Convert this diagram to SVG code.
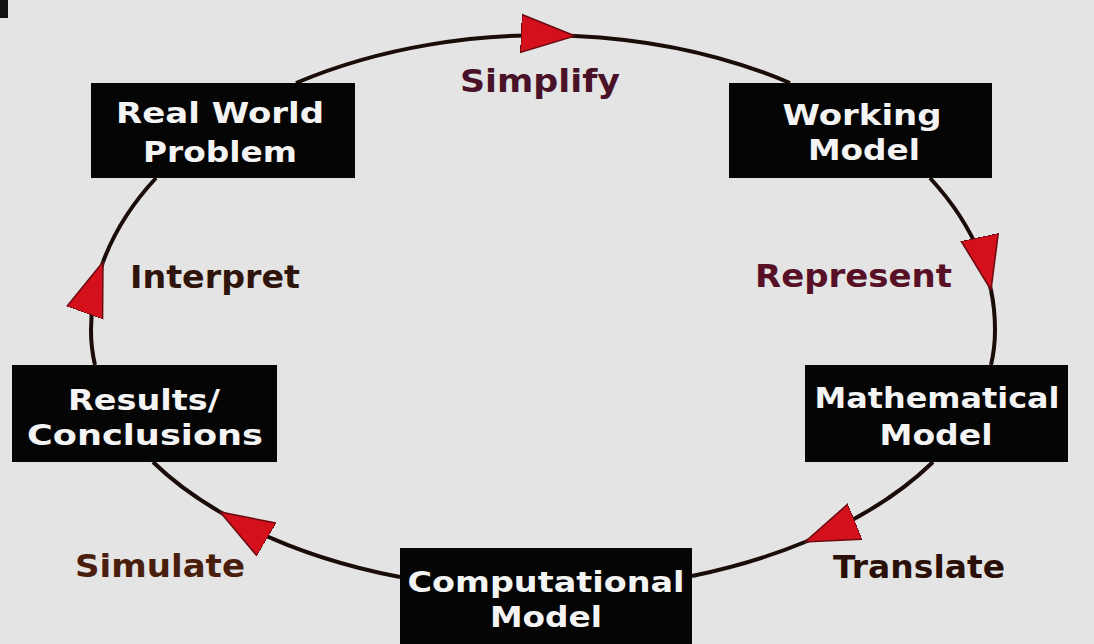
<svg xmlns="http://www.w3.org/2000/svg" width="1094" height="644" viewBox="0 0 1094 644">
<style>
.box{fill:#050505}
.bt{font-family:"DejaVu Sans",Verdana,sans-serif;font-weight:bold;font-size:29px;fill:#f4f4f4;text-anchor:middle}
.lbl{font-family:"DejaVu Sans",Verdana,sans-serif;font-weight:bold;font-size:32px}
.con{fill:none;stroke:#1a0c08;stroke-width:4}
</style>
<defs>
<marker id="ah" markerUnits="userSpaceOnUse" markerWidth="60" markerHeight="44" viewBox="0 -22 60 44" refX="54" refY="0" orient="auto">
<path d="M0,-19 L54,0 L0,19 Z" fill="#d4101c" stroke="#6a0a10" stroke-width="1.5"/>
</marker>
</defs>
<rect width="1094" height="644" fill="#e4e4e4"/>
<rect x="0" y="0" width="8" height="18" fill="#111"/>
<g id="connectors">
<path class="con" d="M296 83 A452 295 0 0 1 575 36" marker-end="url(#ah)"/>
<path class="con" d="M575 36 A452 295 0 0 1 790 83"/>
<path class="con" d="M930 178 A452 295 0 0 1 991 290" marker-end="url(#ah)"/>
<path class="con" d="M991 290 A452 295 0 0 1 995 330 A452 260 0 0 1 991 365"/>
<path class="con" d="M933 462 A452 260 0 0 1 805 542" marker-end="url(#ah)"/>
<path class="con" d="M805 542 A452 260 0 0 1 692 576"/>
<path class="con" d="M400 577 A452 260 0 0 1 220 512" marker-end="url(#ah)"/>
<path class="con" d="M220 512 A452 260 0 0 1 153 462"/>
<path class="con" d="M95 365 A452 260 0 0 1 91 330 A452 295 0 0 1 103 262" marker-end="url(#ah)"/>
<path class="con" d="M103 262 A452 295 0 0 1 156 178"/>
</g>
<g id="labels">
<text class="lbl" x="460" y="92" textLength="160" lengthAdjust="spacingAndGlyphs" fill="#4a1228">Simplify</text>
<text class="lbl" x="755" y="287" textLength="197" lengthAdjust="spacingAndGlyphs" fill="#571026">Represent</text>
<text class="lbl" x="833" y="578" textLength="172" lengthAdjust="spacingAndGlyphs" fill="#2a1008">Translate</text>
<text class="lbl" x="75" y="577" textLength="170" lengthAdjust="spacingAndGlyphs" fill="#4a1e0c">Simulate</text>
<text class="lbl" x="130" y="288" textLength="170" lengthAdjust="spacingAndGlyphs" fill="#2e140a">Interpret</text>
</g>
<g id="real-world-problem">
<rect class="box" x="91" y="83" width="264" height="95"/>
<text class="bt" x="220" y="123" textLength="208" lengthAdjust="spacingAndGlyphs">Real World</text>
<text class="bt" x="220" y="162" textLength="154" lengthAdjust="spacingAndGlyphs">Problem</text>
</g>
<g id="working-model">
<rect class="box" x="729" y="83" width="263" height="95"/>
<text class="bt" x="862" y="125" textLength="159" lengthAdjust="spacingAndGlyphs">Working</text>
<text class="bt" x="864" y="160" textLength="112" lengthAdjust="spacingAndGlyphs">Model</text>
</g>
<g id="mathematical-model">
<rect class="box" x="805" y="365" width="263" height="97"/>
<text class="bt" x="937" y="408" textLength="245" lengthAdjust="spacingAndGlyphs">Mathematical</text>
<text class="bt" x="936" y="445" textLength="113" lengthAdjust="spacingAndGlyphs">Model</text>
</g>
<g id="computational-model">
<rect class="box" x="400" y="548" width="292" height="96"/>
<text class="bt" x="546" y="592" textLength="277" lengthAdjust="spacingAndGlyphs">Computational</text>
<text class="bt" x="546" y="627" textLength="112" lengthAdjust="spacingAndGlyphs">Model</text>
</g>
<g id="results-conclusions">
<rect class="box" x="12" y="365" width="265" height="97"/>
<text class="bt" x="144" y="410" textLength="152" lengthAdjust="spacingAndGlyphs">Results/</text>
<text class="bt" x="145" y="445" textLength="236" lengthAdjust="spacingAndGlyphs">Conclusions</text>
</g>
</svg>
